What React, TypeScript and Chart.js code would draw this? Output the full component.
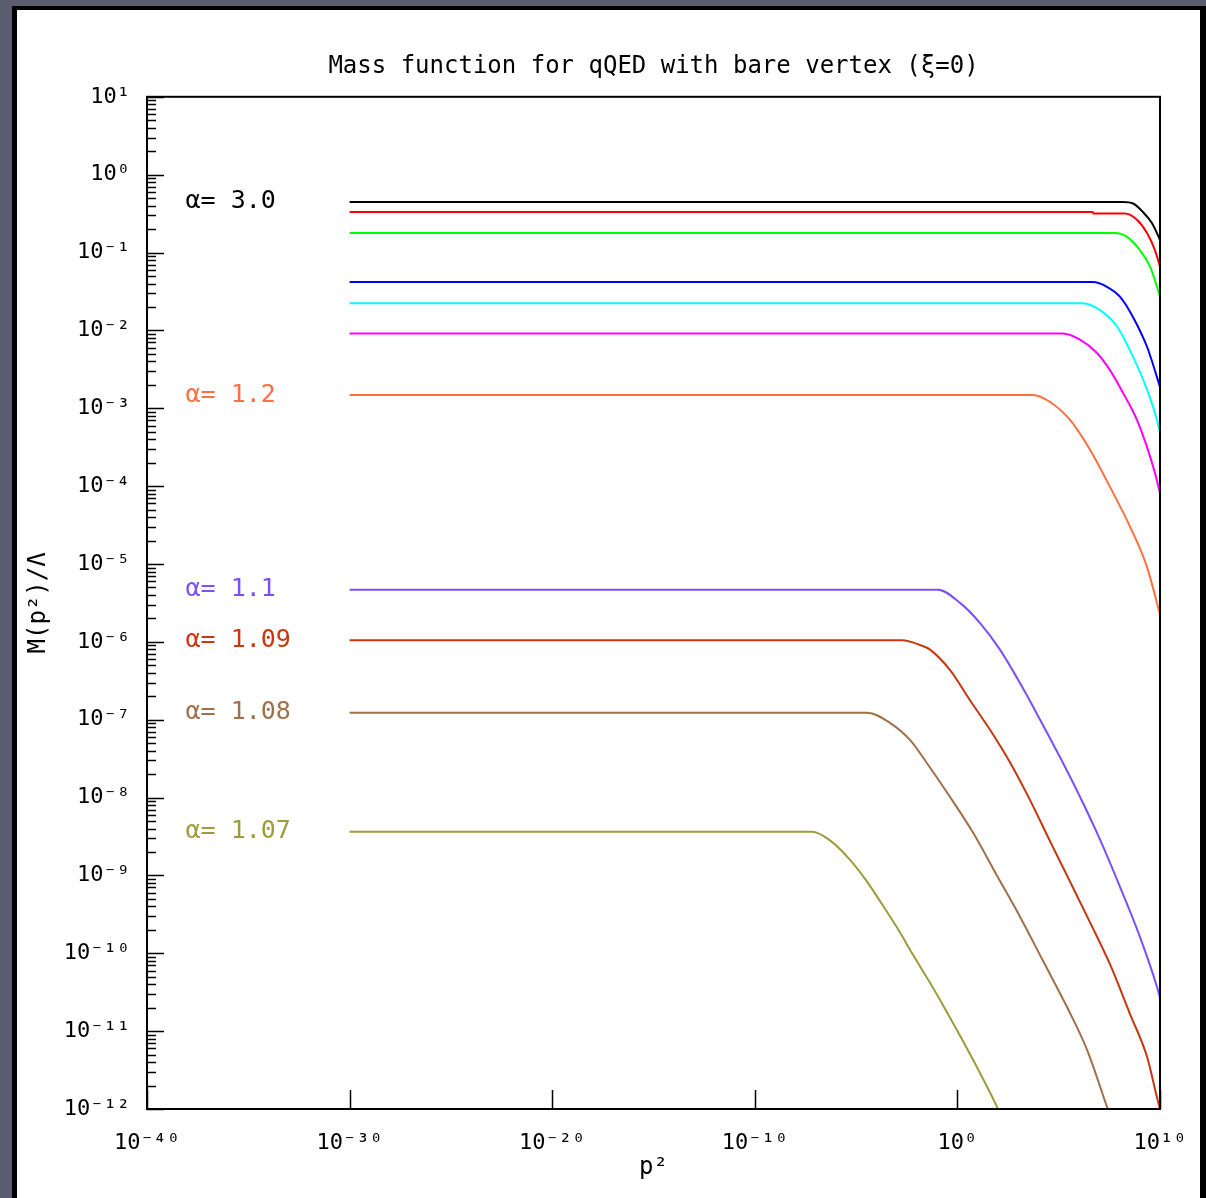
import React, { useEffect, useRef } from 'react';
import { Chart, registerables } from 'chart.js';

Chart.register(...registerables);

// ---- axis definitions ----
const xTickExponents = [-40, -30, -20, -10, 0, 10];
const yTickExponents = [1, 0, -1, -2, -3, -4, -5, -6, -7, -8, -9, -10, -11, -12];
const xMinExp = -40;
const xMaxExp = 10;
const yMinExp = -12;
const yMaxExp = 1;

const chartTitle = 'Mass function for qQED with bare vertex (ξ=0)';
const xAxisTitle = 'p²';
const yAxisTitle = 'M(p²)/Λ';

// ---- series (log10 p², log10 M) ----
const s1_logP2 = [-30, 8.17, 8.67, 9.16, 9.6, 9.85, 10];
const s1_logM = [-0.35, -0.35, -0.37, -0.48, -0.62, -0.75, -0.84];

const s2_logP2 = [-30, 6.69, 6.72, 8.27, 8.86, 9.36, 9.75, 10];
const s2_logM = [-0.48, -0.48, -0.5, -0.5, -0.58, -0.75, -0.97, -1.18];

const s3_logP2 = [-30, 7.78, 8.37, 9.01, 9.51, 9.85, 10];
const s3_logM = [-0.75, -0.75, -0.8, -0.97, -1.18, -1.44, -1.57];

const s4_logP2 = [-30, 6.69, 7.38, 8.03, 8.67, 9.36, 9.85, 10];
const s4_logM = [-1.38, -1.38, -1.44, -1.57, -1.83, -2.21, -2.6, -2.73];

const s5_logP2 = [-30, 6.2, 7.04, 7.88, 8.67, 9.36, 9.85, 10];
const s5_logM = [-1.65, -1.65, -1.74, -1.95, -2.34, -2.76, -3.15, -3.32];

const s6_logP2 = [-30, 5.21, 6.05, 6.89, 7.53, 8.17, 8.86, 9.36, 9.75, 10];
const s6_logM = [-2.04, -2.04, -2.12, -2.29, -2.51, -2.8, -3.15, -3.5, -3.83, -4.09];

const s7_logP2 = [-30, 3.73, 4.57, 5.56, 6.54, 7.53, 8.52, 9.36, 9.85, 10];
const s7_logM = [-2.83, -2.83, -2.92, -3.15, -3.53, -4.01, -4.52, -5.04, -5.5, -5.65];

const s8_logP2 = [-30, -0.96, 0.13, 1.12, 2.1, 3.09, 4.08, 5.06, 6.05, 7.04, 8.03, 9.01, 9.85, 10];
const s8_logM = [-5.33, -5.33, -5.5, -5.76, -6.1, -6.53, -7.0, -7.48, -7.99, -8.54, -9.15, -9.79, -10.43, -10.57];

const s9_logP2 = [-30, -2.73, -1.85, -1.35, -0.37, 0.62, 1.61, 2.6, 3.58, 4.57, 5.56, 6.54, 7.53, 8.52, 9.36, 9.85, 10];
const s9_logM = [-5.98, -5.98, -6.04, -6.1, -6.36, -6.75, -7.13, -7.55, -8.03, -8.56, -9.08, -9.6, -10.14, -10.78, -11.33, -11.85, -12.0];

const s10_logP2 = [-30, -4.46, -3.33, -2.34, -1.5, -0.37, 0.77, 1.95, 3.09, 4.23, 5.41, 6.4, 7.38, 7.42];
const s10_logM = [-6.91, -6.91, -7.04, -7.26, -7.56, -7.99, -8.45, -9.0, -9.53, -10.1, -10.69, -11.24, -11.97, -12.0];

const s11_logP2 = [-30, -7.18, -6.29, -5.3, -4.46, -3.82, -2.98, -2.19, -1.35, -0.51, 0.28, 1.12, 1.95, 2.0];
const s11_logM = [-8.44, -8.44, -8.55, -8.8, -9.08, -9.33, -9.67, -10.02, -10.38, -10.76, -11.13, -11.54, -11.97, -12.0];

const seriesLogP2 = [s1_logP2, s2_logP2, s3_logP2, s4_logP2, s5_logP2, s6_logP2, s7_logP2, s8_logP2, s9_logP2, s10_logP2, s11_logP2];
const seriesLogM = [s1_logM, s2_logM, s3_logM, s4_logM, s5_logM, s6_logM, s7_logM, s8_logM, s9_logM, s10_logM, s11_logM];

const seriesNames = ['α= 3.0', 'curve 2', 'curve 3', 'curve 4', 'curve 5', 'curve 6', 'α= 1.2', 'α= 1.1', 'α= 1.09', 'α= 1.08', 'α= 1.07'];
const seriesShowLabel = [true, false, false, false, false, false, true, true, true, true, true];
const seriesColors = ['#000000', '#ff0000', '#00ff00', '#0000ff', '#00ffff', '#ff00ff', '#ff6f3f', '#7b4fff', '#c8370f', '#a0704a', '#9c9c3c'];

// ---- style constants ----
const FONT = 'DejaVu Sans Mono';
const LABEL_LOG_P2 = -38.1;

const SUP: Record<string, string> = { '-': '⁻', '0': '⁰', '1': '¹', '2': '²', '3': '³', '4': '⁴', '5': '⁵', '6': '⁶', '7': '⁷', '8': '⁸', '9': '⁹' };
const pow10Label = (e: number) => '10' + String(e).split('').map((c) => SUP[c]).join('');
const xTickLabels = xTickExponents.map(pow10Label);
const yTickLabels = yTickExponents.map(pow10Label);

const framePlugin = {
  id: 'framePlugin',
  afterDraw(chart: any) {
    const { ctx, chartArea } = chart;
    const xs = chart.scales.x;
    const ys = chart.scales.y;
    const { left, right, top, bottom } = chartArea;
    ctx.save();
    // curve labels
    ctx.font = `25px "${FONT}"`;
    ctx.textAlign = 'left';
    ctx.textBaseline = 'middle';
    seriesNames.forEach((name, i) => {
      if (!seriesShowLabel[i]) return;
      const px = xs.getPixelForValue(Math.pow(10, LABEL_LOG_P2));
      const py = ys.getPixelForValue(Math.pow(10, seriesLogM[i][0]));
      ctx.fillStyle = seriesColors[i];
      ctx.fillText(name, px, py);
    });
    // frame
    ctx.strokeStyle = '#000';
    ctx.lineWidth = 2;
    ctx.strokeRect(left, top, right - left, bottom - top);
    ctx.lineWidth = 1.5;
    ctx.beginPath();
    // y major ticks
    yTickExponents.forEach((e) => {
      const py = Math.round(ys.getPixelForValue(Math.pow(10, e))) + 0.5;
      ctx.moveTo(left, py);
      ctx.lineTo(left + 17, py);
    });
    // y minor ticks
    for (let e = yMinExp; e < yMaxExp; e++) {
      for (let k = 2; k <= 9; k++) {
        const py = Math.round(ys.getPixelForValue(k * Math.pow(10, e))) + 0.5;
        ctx.moveTo(left, py);
        ctx.lineTo(left + 9, py);
      }
    }
    // x major ticks
    xTickExponents.forEach((e) => {
      const px = Math.round(xs.getPixelForValue(Math.pow(10, e))) + 0.5;
      ctx.moveTo(px, bottom);
      ctx.lineTo(px, bottom - 19);
    });
    ctx.stroke();
    ctx.restore();
  },
};

export default function App() {
  const canvasRef = useRef<HTMLCanvasElement | null>(null);

  useEffect(() => {
    if (!canvasRef.current) return;
    const datasets = seriesNames.map((name, i) => ({
      label: name,
      data: seriesLogP2[i].map((lx, j) => ({ x: Math.pow(10, lx), y: Math.pow(10, seriesLogM[i][j]) })),
      borderColor: seriesColors[i],
      backgroundColor: seriesColors[i],
      borderWidth: 2,
      pointRadius: 0,
      cubicInterpolationMode: 'monotone',
      fill: false,
    }));
    const chart = new Chart(canvasRef.current, {
      type: 'line',
      data: { datasets },
      plugins: [framePlugin],
      options: {
        animation: false,
        responsive: false,
        devicePixelRatio: 1,
        parsing: false,
        layout: { padding: { left: 0, right: 40, top: 0, bottom: 0 } },
        plugins: {
          legend: { display: false },
          tooltip: { enabled: false },
          title: {
            display: true,
            text: chartTitle,
            fullSize: false,
            color: '#000',
            font: { family: FONT, size: 24, weight: 'normal' },
            padding: { top: 42, bottom: 16 },
          },
        },
        scales: {
          x: {
            type: 'logarithmic',
            position: 'bottom',
            min: Math.pow(10, xMinExp),
            max: Math.pow(10, xMaxExp),
            afterBuildTicks: (s: any) => {
              s.ticks = xTickExponents.map((e) => ({ value: Math.pow(10, e), major: true }));
            },
            afterFit: (s: any) => {
              s.height = 89;
              s.paddingLeft = 0;
              s.paddingRight = 0;
            },
            grid: { display: false, drawTicks: false },
            border: { display: false },
            ticks: {
              autoSkip: false,
              maxRotation: 0,
              minRotation: 0,
              padding: 21,
              color: '#000',
              font: { family: FONT, size: 22 },
              callback: (_v: any, i: number) => xTickLabels[i],
            },
            title: {
              display: true,
              text: xAxisTitle,
              color: '#000',
              font: { family: FONT, size: 24 },
              padding: { top: 0, bottom: 16 },
            },
          },
          y: {
            type: 'logarithmic',
            position: 'left',
            min: Math.pow(10, yMinExp),
            max: Math.pow(10, yMaxExp),
            afterBuildTicks: (s: any) => {
              s.ticks = yTickExponents.map((e) => ({ value: Math.pow(10, e), major: true }));
            },
            afterFit: (s: any) => {
              s.width = 130;
              s.paddingTop = 0;
              s.paddingBottom = 0;
            },
            grid: { display: false, drawTicks: false },
            border: { display: false },
            ticks: {
              autoSkip: false,
              padding: 17,
              color: '#000',
              font: { family: FONT, size: 22 },
              callback: (_v: any, i: number) => yTickLabels[i],
            },
            title: {
              display: true,
              text: yAxisTitle,
              color: '#000',
              font: { family: FONT, size: 24 },
              padding: { top: 7, bottom: 0 },
            },
          },
        },
      } as any,
    });
    return () => chart.destroy();
  }, []);

  return (
    <div style={{ position: 'fixed', left: 0, top: 0, width: 1206, height: 1198, background: '#5b5d6f', overflow: 'hidden' }}>
      <div style={{ position: 'absolute', left: 12, top: 6, width: 1194, height: 1192, background: '#000' }} />
      <div style={{ position: 'absolute', left: 17, top: 10, width: 1183, height: 1188, background: '#fff' }}>
        <canvas ref={canvasRef} width={1183} height={1188} style={{ display: 'block', width: 1183, height: 1188 }} />
      </div>
    </div>
  );
}
